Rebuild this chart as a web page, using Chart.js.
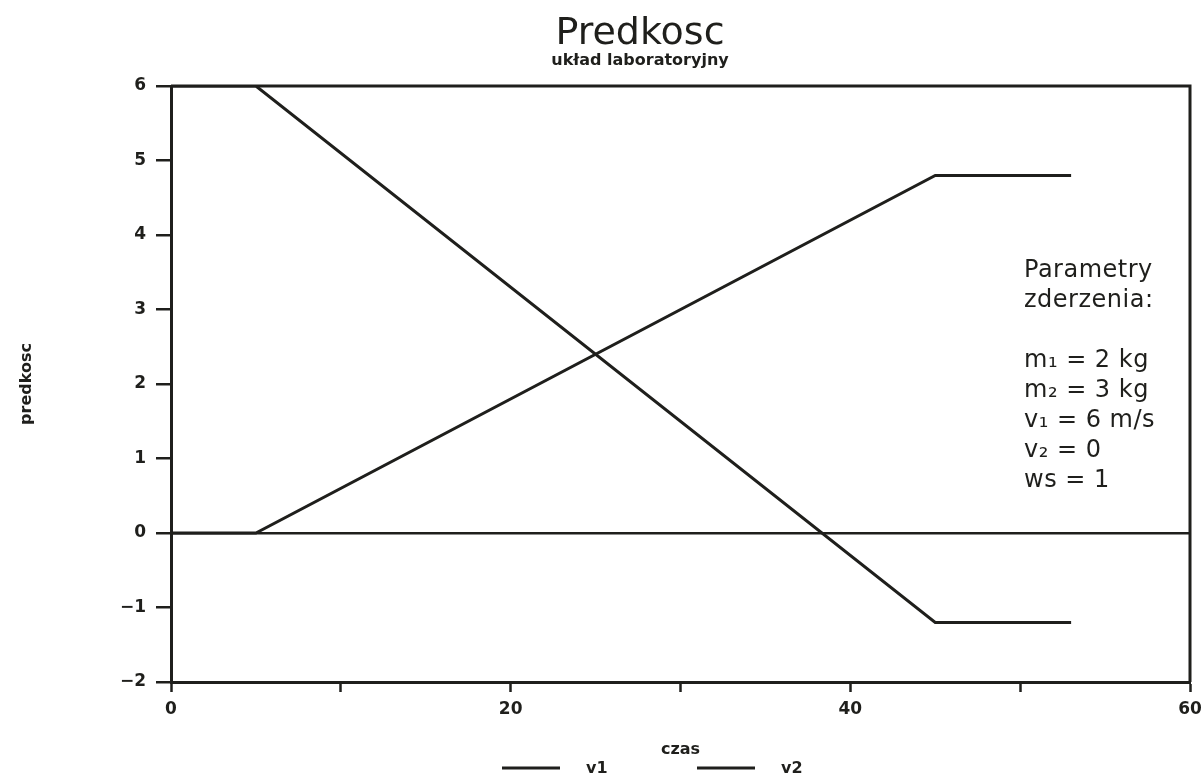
<!DOCTYPE html>
<html><head><meta charset="utf-8">
<script src="https://cdn.jsdelivr.net/npm/chart.js@4"></script>
<style>html,body{margin:0;padding:0;background:#fff;overflow:hidden;}
#wrap{position:relative;width:1280px;height:781px;}
</style></head><body><div id="wrap"><canvas id="c"></canvas></div>
<script>
// ---- data ----
const czas = [0, 5, 45, 53];
const v1 = [6, 6, -1.2, -1.2];
const v2 = [0, 0, 4.8, 4.8];
const seriesNames = ['v1', 'v2'];
const titleText = 'Predkosc';
const subtitleText = 'układ laboratoryjny';
const xTitle = 'czas';
const yTitle = 'predkosc';
const xLabeledTicks = [0, 20, 40, 60];
const paramLines = ['Parametry', 'zderzenia:', '', 'm\u2081 = 2 kg', 'm\u2082 = 3 kg', 'v\u2081 = 6 m/s', 'v\u2082 = 0', 'ws = 1'];

const INK = '#1f1f1c';
Chart.defaults.font.family = "'DejaVu Sans', sans-serif";
Chart.defaults.color = INK;

const toPts = (ys) => czas.map((x, i) => ({x, y: ys[i]}));

const framePlugin = {
  id: 'frame',
  afterDatasetsDraw(chart) {
    const {ctx, chartArea: a} = chart;
    ctx.save();
    ctx.strokeStyle = INK; ctx.lineWidth = 3;
    ctx.beginPath();
    ctx.moveTo(a.left, a.top); ctx.lineTo(a.right, a.top); ctx.lineTo(a.right, a.bottom);
    ctx.stroke();
    ctx.restore();
  }
};

const paramsPlugin = {
  id: 'params',
  afterDraw(chart) {
    const {ctx, chartArea: a} = chart;
    ctx.save();
    ctx.fillStyle = INK;
    ctx.font = "24px 'DejaVu Sans'";
    if ('letterSpacing' in ctx) ctx.letterSpacing = '0.5px';
    ctx.textAlign = 'left'; ctx.textBaseline = 'alphabetic';
    const x0 = a.left + 853, y0 = a.top + 191, lh = 30;
    paramLines.forEach((t, i) => { if (t) ctx.fillText(t, x0, y0 + i * lh); });
    ctx.restore();
  }
};

const legendPlugin = {
  id: 'customLegend',
  afterDraw(chart) {
    const {ctx} = chart;
    const y = 768;
    const starts = [502, 697];
    ctx.save();
    ctx.font = "bold 16px 'DejaVu Sans'";
    ctx.textBaseline = 'middle'; ctx.textAlign = 'left';
    chart.data.datasets.forEach((ds, i) => {
      const x = starts[i];
      ctx.strokeStyle = ds.borderColor; ctx.lineWidth = 3;
      ctx.beginPath(); ctx.moveTo(x, y); ctx.lineTo(x + 58, y); ctx.stroke();
      ctx.fillStyle = INK;
      ctx.fillText(ds.label, x + 84, y + 1);
    });
    ctx.restore();
  }
};

new Chart(document.getElementById('c'), {
  type: 'line',
  data: {
    datasets: [
      {label: seriesNames[0], data: toPts(v1), borderColor: INK, backgroundColor: INK, borderWidth: 3, pointRadius: 0, tension: 0},
      {label: seriesNames[1], data: toPts(v2), borderColor: INK, backgroundColor: INK, borderWidth: 3, pointRadius: 0, tension: 0}
    ]
  },
  options: {
    responsive: true, maintainAspectRatio: false, animation: false,
    layout: {padding: {left: 90, right: 90, top: 0, bottom: 18}},
    plugins: {
      legend: {display: false},
      tooltip: {enabled: false},
      title: {display: true, text: titleText, color: INK, font: {size: 38, weight: 'normal', lineHeight: 1.0}, padding: {top: 15, bottom: 0}},
      subtitle: {display: true, text: subtitleText, color: INK, font: {size: 16, weight: 'bold', lineHeight: 1.0}, padding: {top: 0, bottom: 17}}
    },
    scales: {
      x: {
        type: 'linear', min: 0, max: 60,
        border: {display: true, color: INK, width: 3},
        grid: {drawOnChartArea: false, drawTicks: true, tickLength: 10, tickColor: INK, tickWidth: 2.5, color: INK},
        ticks: {stepSize: 10, padding: 7, color: INK, font: {size: 17, weight: 'bold'},
          callback: (v) => xLabeledTicks.includes(v) ? String(v) : ''},
        title: {display: true, text: xTitle, color: INK, font: {size: 16, weight: 'bold'}, padding: {top: 4, bottom: 4}},
        afterFit: (s) => { s.height = 81; }
      },
      y: {
        min: -2, max: 6,
        border: {display: true, color: INK, width: 3},
        grid: {drawOnChartArea: true, drawTicks: true, tickLength: 15, tickColor: INK, tickWidth: 2.5, lineWidth: 2.5,
          color: (c) => (c.tick && c.tick.value === 0) ? INK : 'rgba(0,0,0,0)'},
        ticks: {stepSize: 1, padding: 10, color: INK, font: {size: 17, weight: 'bold'},
          callback: (v) => v < 0 ? '\u2212' + Math.abs(v) : String(v)},
        title: {display: true, text: yTitle, color: INK, font: {size: 16, weight: 'bold'}, padding: {top: -72.6, bottom: 4}},
        afterFit: (s) => { s.width = 81; }
      }
    }
  },
  plugins: [framePlugin, paramsPlugin, legendPlugin]
});
</script></body></html>
